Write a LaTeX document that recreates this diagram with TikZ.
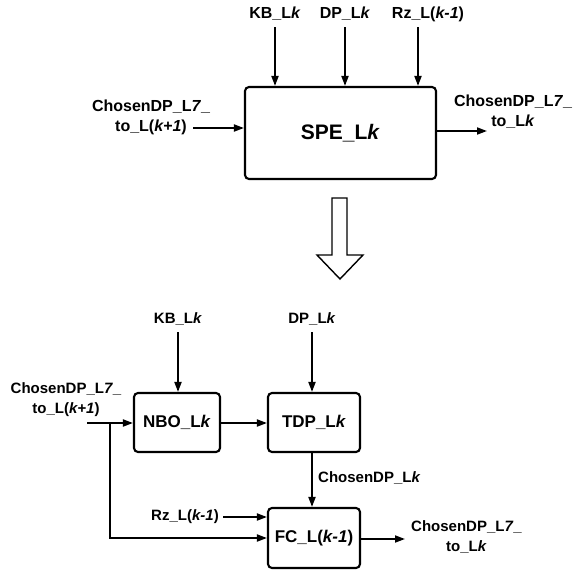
\documentclass[tikz,border=0pt]{standalone}
\usepackage{fontspec}
\setmainfont{Liberation Sans}
\usetikzlibrary{arrows.meta}
\tikzset{
  box/.style={draw, line width=2.1pt, rounded corners=4pt, inner sep=0pt},
  lbl/.style={font=\bfseries\fontsize{16}{20}\selectfont, align=center, inner sep=0pt},
  lbls/.style={font=\bfseries\fontsize{15}{20}\selectfont, align=center, inner sep=0pt},
  conn/.style={line width=1.8pt, -{Triangle[length=10pt,width=7pt]}},
}
\begin{document}
\begin{tikzpicture}[x=1pt,y=-1pt]
\useasboundingbox (0,0) rectangle (582,574);
% ---- top part ----
\node[box, minimum width=191pt, minimum height=92pt, font=\bfseries\fontsize{21}{24}\selectfont] (spe) at (340.5,133) {SPE\_L\textit{k}};
\node[lbl] (kbt) at (275,14) {KB\_L\textit{k}};
\node[lbl] (dpt) at (345,14) {DP\_L\textit{k}};
\node[lbl] (rzt) at (428,14) {Rz\_L(\textit{k-1})};
\coordinate (kbs) at (275,27);
\coordinate (dps) at (345,27);
\coordinate (rzs) at (418,27);
\draw[conn] (kbs) -- (kbs |- spe.north);
\draw[conn] (dps) -- (dps |- spe.north);
\draw[conn] (rzs) -- (rzs |- spe.north);
\node[lbl] (inl) at (151,117) {ChosenDP\_L\textit{7}\_\\to\_L(\textit{k+1})};
\coordinate (ina) at (193,128);
\draw[conn] (ina) -- (ina -| spe.west);
\node[lbl] (outl) at (513,112) {ChosenDP\_L\textit{7}\_\\to\_L\textit{k}};
\coordinate (outa) at (487,131);
\draw[conn] (outa -| spe.east) -- (outa);
% ---- hollow arrow ----
\draw[line width=1.4pt, line join=miter] (332,198) -- (347,198) -- (347,255) -- (363,255) -- (340,279) -- (317,255) -- (332,255) -- cycle;
% ---- bottom part ----
\node[box, minimum width=86pt, minimum height=59pt, font=\bfseries\fontsize{17}{20}\selectfont] (nbo) at (177,422.5) {NBO\_L\textit{k}};
\node[box, minimum width=92pt, minimum height=59pt, font=\bfseries\fontsize{17}{20}\selectfont] (tdp) at (314,422.5) {TDP\_L\textit{k}};
\node[box, minimum width=92pt, minimum height=60pt, font=\bfseries\fontsize{17}{20}\selectfont] (fc) at (314,538) {FC\_L(\textit{k-1})};
\node[lbls] (kbb) at (178,319) {KB\_L\textit{k}};
\node[lbls] (dpb) at (312,319) {DP\_L\textit{k}};
\coordinate (kbbs) at (178,332);
\coordinate (dpbs) at (312,332);
\draw[conn] (kbbs) -- (kbbs |- nbo.north);
\draw[conn] (dpbs) -- (dpbs |- tdp.north);
\node[lbls] (inb) at (66,400) {ChosenDP\_L\textit{7}\_\\to\_L(\textit{k+1})};
\coordinate (inbs) at (87,423);
\coordinate (br) at (110,423);
\draw[conn] (inbs) -- (inbs -| nbo.west);
\draw[conn] (br) -- (110,538) -- (fc.west |- 0,538);
\draw[conn] (nbo.east |- 0,423) -- (tdp.west |- 0,423);
\draw[conn] (tdp.south -| dpbs) -- (fc.north -| dpbs);
\node[lbls, anchor=west] (cdp) at (318,478) {ChosenDP\_L\textit{k}};
\node[lbls] (rzb) at (185,517) {Rz\_L(\textit{k-1})};
\coordinate (rzbs) at (223,517);
\draw[conn] (rzbs) -- (rzbs -| fc.west);
\node[lbls] (outb) at (466.5,537) {ChosenDP\_L\textit{7}\_\\to\_L\textit{k}};
\coordinate (outbs) at (405,539);
\draw[conn] (outbs -| fc.east) -- (outbs);
\end{tikzpicture}
\end{document}
